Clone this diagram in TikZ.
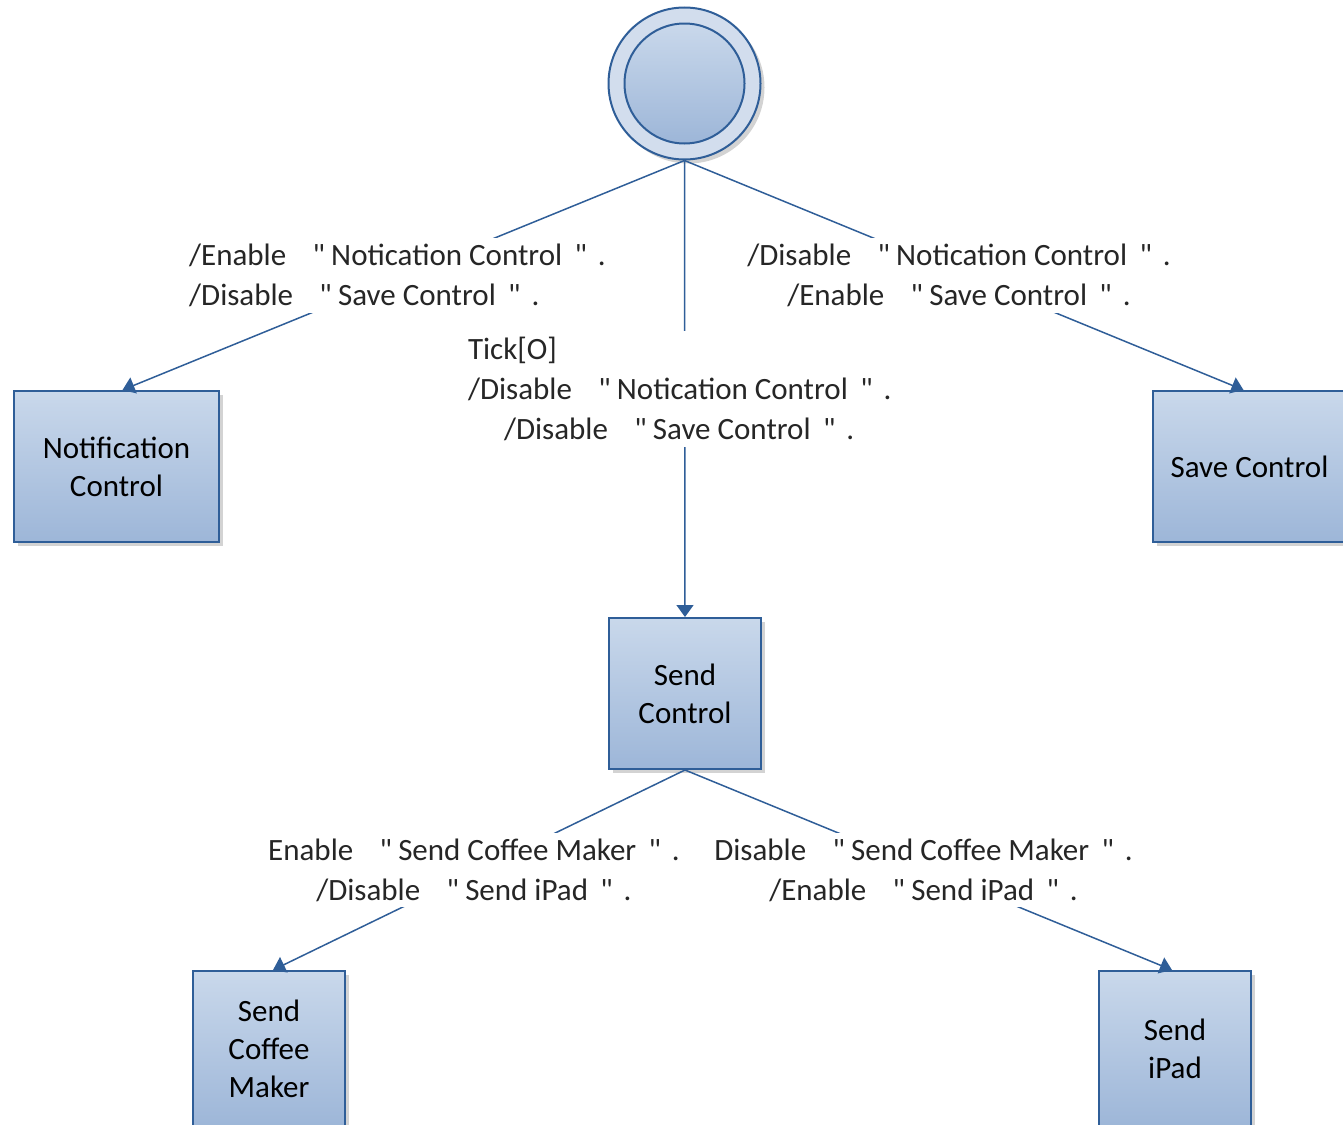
\documentclass[tikz,border=0pt]{standalone}
\usepackage{fontspec}
\setmainfont{Carlito}
\usetikzlibrary{arrows.meta,shadows}

\definecolor{edgeblue}{HTML}{2F5E98}
\definecolor{boxtop}{HTML}{C9D8EB}
\definecolor{boxbot}{HTML}{9DB6D8}
\definecolor{ringfill}{HTML}{D2DDED}

\newcommand{\opq}{\hspace{0.85em}\textquotedbl\hspace{0.2em}}
\newcommand{\clq}{\hspace{0.4em}\textquotedbl\hspace{0.35em}.}

\tikzset{
  state/.style={draw=edgeblue, line width=1pt, top color=boxtop, bottom color=boxbot,
    drop shadow={opacity=.35, shadow xshift=2pt, shadow yshift=-2pt},
    minimum width=76pt, minimum height=75.5pt, align=center, inner sep=2pt,
    font=\fontsize{15.5}{19}\selectfont},
  ringout/.style={circle, draw=edgeblue, line width=1pt, fill=ringfill, minimum size=76pt,
    drop shadow={opacity=.35, shadow xshift=2pt, shadow yshift=-2pt}},
  ringin/.style={circle, draw=edgeblue, line width=1pt, top color=boxtop, bottom color=boxbot,
    minimum size=60pt},
  lbl/.style={fill=white, inner sep=3pt, align=center, text=black!85,
    font=\fontsize{15.5}{20}\selectfont},
  trans/.style={draw=edgeblue, line width=.75pt, -{Triangle[length=6pt,width=8.5pt]}}
}

\begin{document}
\begin{tikzpicture}[x=0.5pt, y=-0.5pt]
    \path[use as bounding box, clip] (0,0) rectangle (1343,1124);

    % states
    \node[ringout] (init) at (684.5,83.5) {};
    \node[ringin] (initc) at (init) {};
    \node[state, minimum width=102.5pt] (nc) at (116.5,466.5) {Notification\\Control};
    \node[state, minimum width=96.5pt] (sc) at (1249.5,466.5) {Save Control};
    \node[state] (snd) at (685,693.5) {Send\\Control};
    \node[state, minimum height=78pt] (scm) at (269,1049) {Send\\Coffee\\Maker};
    \node[state, minimum height=78pt] (sip) at (1175,1049) {Send\\iPad};

    % transitions
    \draw[trans] (init.south) -- node[lbl, align=left, xshift=-3pt]
        {/Enable\opq Notication Control\clq\\/Disable\opq Save Control\clq}
        ([xshift=3pt]nc.north);
    \draw[trans] (init.south) -- node[lbl, xshift=-2.5pt]
        {/Disable\opq Notication Control\clq\\/Enable\opq Save Control\clq}
        ([xshift=-3pt]sc.north);
    \draw[trans] (init.south) -- node[lbl, align=left, xshift=-2.5pt]
        {Tick[O]\\/Disable\opq Notication Control\clq\\\hspace{18pt}/Disable\opq Save Control\clq}
        (snd.north);
    \draw[trans] (snd.south) -- node[lbl, xshift=-2.5pt]
        {Enable\opq Send Coffee Maker\clq\\/Disable\opq Send iPad\clq}
        ([xshift=2pt]scm.north);
    \draw[trans] (snd.south) -- node[lbl, xshift=-2.5pt]
        {Disable\opq Send Coffee Maker\clq\\/Enable\opq Send iPad\clq}
        ([xshift=-1.5pt]sip.north);
\end{tikzpicture}
\end{document}
